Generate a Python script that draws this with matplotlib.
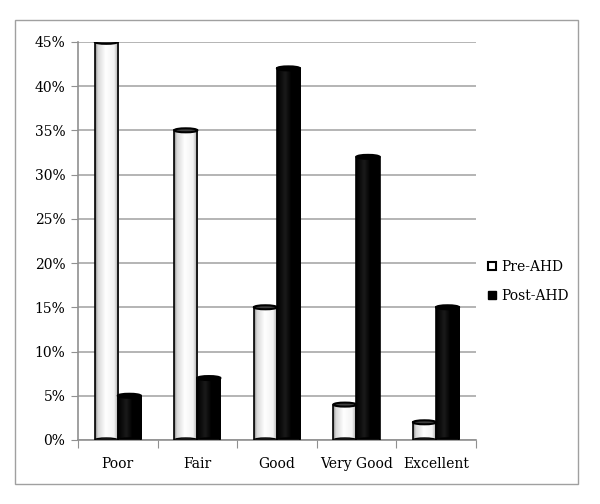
import numpy as np
import matplotlib.pyplot as plt
from matplotlib.patches import Ellipse, Rectangle
from matplotlib.lines import Line2D
from matplotlib.colors import LinearSegmentedColormap
from matplotlib.ticker import FuncFormatter

categories = ["Poor", "Fair", "Good", "Very Good", "Excellent"]
pre_ahd = [45, 35, 15, 4, 2]
post_ahd = [5, 7, 42, 32, 15]
series_names = ["Pre-AHD", "Post-AHD"]

plt.rcParams['font.family'] = ['DejaVu Serif']

fig = plt.figure(figsize=(6, 5.04), dpi=100)
fig.patches.append(Rectangle((0.025, 0.04), 0.938, 0.92, transform=fig.transFigure,
                             fill=False, edgecolor="#a0a0a0", linewidth=1))
ax = fig.add_axes([0.13, 0.127, 0.663, 0.79])

x = np.arange(len(categories))
w = 0.29

white_cmap = LinearSegmentedColormap.from_list(
    "cyl_w", [(0, "#808080"), (0.12, "#d8d8d8"), (0.45, "#ffffff"), (0.8, "#f2f2f2"), (1, "#9a9a9a")])
black_cmap = LinearSegmentedColormap.from_list(
    "cyl_b", [(0, "#000000"), (0.35, "#1a1a1a"), (0.6, "#000000"), (1, "#000000")])

grad = np.linspace(0, 1, 256).reshape(1, -1)

def draw_cylinders(xs, vals, cmap, cap_color):
    bars = ax.bar(xs, vals, width=w, color="none", edgecolor="black", linewidth=1.2, zorder=3)
    for b in bars:
        x0, h, bw = b.get_x(), b.get_height(), b.get_width()
        im = ax.imshow(grad, extent=(x0, x0 + bw, 0, h), aspect="auto", cmap=cmap, zorder=2)
        im.set_clip_path(b)
        ax.add_patch(Ellipse((x0 + bw / 2, 0), bw, 0.45, facecolor=cap_color,
                             edgecolor="black", linewidth=1, zorder=2.5))
        ax.add_patch(Ellipse((x0 + bw / 2, h), bw, 0.45, facecolor=cap_color,
                             edgecolor="black", linewidth=1.5, zorder=4))
    return bars

draw_cylinders(x - w / 2, pre_ahd, white_cmap, "#404040")
draw_cylinders(x + w / 2, post_ahd, black_cmap, "#000000")

ax.set_xlim(-0.5, len(categories) - 0.5)
ax.set_ylim(0, 45)
ax.set_yticks(np.arange(0, 46, 5))
ax.yaxis.set_major_formatter(FuncFormatter(lambda v, p: f"{int(v)}%"))
ax.grid(axis="y", color="#a8a8a8", linewidth=1.2, zorder=0)
ax.set_axisbelow(True)

ax.set_xticks(np.arange(-0.5, len(categories)))
ax.set_xticklabels([])
ax.set_xticks(x, minor=True)
ax.set_xticklabels(categories, minor=True)
ax.tick_params(axis="x", which="major", length=6, color="#909090")
ax.tick_params(axis="x", which="minor", length=0, pad=12, labelsize=10)
ax.tick_params(axis="y", length=5, color="#909090", labelsize=10, pad=4)

for s in ["top", "right"]:
    ax.spines[s].set_visible(False)
for s in ["left", "bottom"]:
    ax.spines[s].set_color("#909090")
    ax.spines[s].set_linewidth(1.2)

handles = [
    Line2D([], [], linestyle="none", marker="s", markersize=6,
           markerfacecolor="white", markeredgecolor="black", markeredgewidth=1.5),
    Line2D([], [], linestyle="none", marker="s", markersize=6,
           markerfacecolor="black", markeredgecolor="black"),
]
fig.legend(handles, series_names, loc="center left", bbox_to_anchor=(0.803, 0.442),
           frameon=False, fontsize=10, handlelength=0.7, handletextpad=0.3,
           labelspacing=1.1, borderaxespad=0)

fig.savefig("out.png", dpi=100)
